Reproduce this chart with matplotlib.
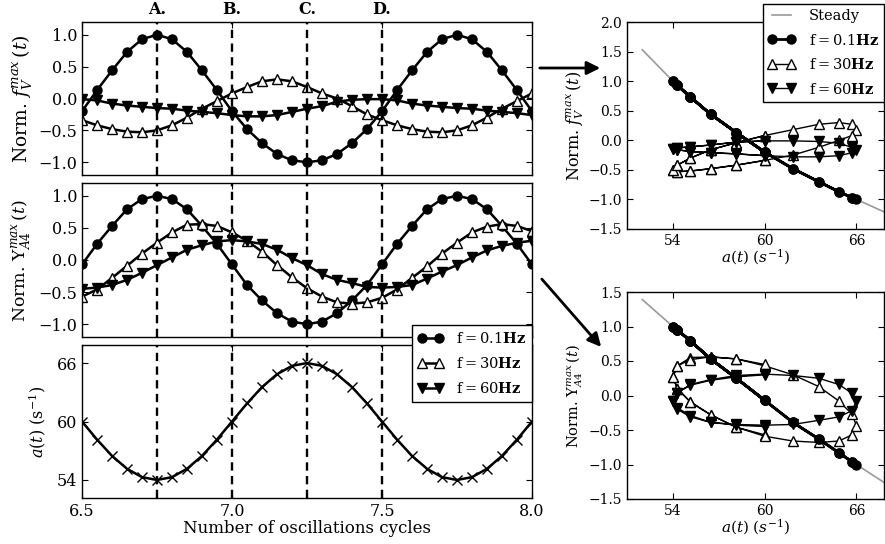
import matplotlib
matplotlib.use('Agg')
import matplotlib.pyplot as plt
from matplotlib.lines import Line2D
from matplotlib.patches import FancyArrowPatch
from matplotlib.transforms import blended_transform_factory

# ---------------- data ----------------
t = [6.50, 6.55, 6.60, 6.65, 6.70, 6.75, 6.80, 6.85, 6.90, 6.95,
     7.00, 7.05, 7.10, 7.15, 7.20, 7.25, 7.30, 7.35, 7.40, 7.45,
     7.50, 7.55, 7.60, 7.65, 7.70, 7.75, 7.80, 7.85, 7.90, 7.95, 8.00]

a_t = [60.0, 58.15, 56.47, 55.15, 54.29, 54.0, 54.29, 55.15, 56.47, 58.15,
       60.0, 61.85, 63.53, 64.85, 65.71, 66.0, 65.71, 64.85, 63.53, 61.85,
       60.0, 58.15, 56.47, 55.15, 54.29, 54.0, 54.29, 55.15, 56.47, 58.15, 60.0]

fv_01 = [-0.20, 0.13, 0.44, 0.73, 0.93, 1.00, 0.93, 0.73, 0.44, 0.13,
         -0.20, -0.48, -0.70, -0.87, -0.97, -1.00, -0.97, -0.87, -0.70, -0.48,
         -0.20, 0.13, 0.44, 0.73, 0.93, 1.00, 0.93, 0.73, 0.44, 0.13, -0.20]
fv_30 = [-0.34, -0.42, -0.48, -0.52, -0.53, -0.50, -0.42, -0.30, -0.16, -0.04,
         0.08, 0.18, 0.27, 0.30, 0.27, 0.18, 0.08, 0.00, -0.12, -0.25,
         -0.34, -0.42, -0.48, -0.52, -0.53, -0.50, -0.42, -0.30, -0.16, -0.04, 0.08]
fv_60 = [-0.01, -0.03, -0.08, -0.11, -0.13, -0.15, -0.16, -0.19, -0.21, -0.23,
         -0.26, -0.28, -0.28, -0.26, -0.21, -0.16, -0.12, -0.05, -0.02, -0.01,
         -0.01, -0.03, -0.08, -0.11, -0.13, -0.15, -0.16, -0.19, -0.21, -0.23, -0.26]

y_01 = [-0.07, 0.25, 0.53, 0.79, 0.95, 1.00, 0.95, 0.79, 0.53, 0.25,
        -0.07, -0.39, -0.63, -0.83, -0.96, -1.00, -0.96, -0.83, -0.63, -0.39,
        -0.07, 0.25, 0.53, 0.79, 0.95, 1.00, 0.95, 0.79, 0.53, 0.25, -0.07]
y_30 = [-0.57, -0.46, -0.28, -0.09, 0.10, 0.27, 0.43, 0.55, 0.56, 0.53,
        0.43, 0.30, 0.13, -0.08, -0.27, -0.44, -0.57, -0.66, -0.68, -0.66,
        -0.59, -0.46, -0.28, -0.10, 0.10, 0.27, 0.43, 0.52, 0.56, 0.53, 0.45]
y_60 = [-0.45, -0.43, -0.39, -0.31, -0.20, -0.08, 0.04, 0.16, 0.23, 0.29,
        0.31, 0.29, 0.25, 0.16, 0.03, -0.08, -0.22, -0.31, -0.36, -0.42,
        -0.43, -0.42, -0.39, -0.29, -0.18, -0.08, 0.04, 0.15, 0.22, 0.27, 0.30]

steady_a = [52.0, 54.0, 56.47, 58.15, 60.0, 61.85, 63.53, 66.0, 67.8]
steady_fv = [1.53, 1.00, 0.44, 0.13, -0.20, -0.48, -0.70, -1.00, -1.21]
steady_y = [1.39, 1.00, 0.53, 0.25, -0.07, -0.39, -0.63, -1.00, -1.26]

phase_x = [6.75, 7.0, 7.25, 7.5]
phase_labels = ['A.', 'B.', 'C.', 'D.']
leg_labels = [r'f$=$0.1$\mathbf{Hz}$', r'f$=$30$\mathbf{Hz}$', r'f$=$60$\mathbf{Hz}$']

# ---------------- style ----------------
plt.rcParams.update({
    'font.family': ['DejaVu Serif', 'DejaVu Sans'],
    'mathtext.fontset': 'dejavuserif',
    'xtick.direction': 'in', 'ytick.direction': 'in',
    'xtick.top': True, 'ytick.right': True,
    'xtick.major.size': 4, 'ytick.major.size': 4,
    'axes.linewidth': 1.0,
})

W, H = 885, 544
fig = plt.figure(figsize=(W / 100, H / 100), dpi=100)


def ax_px(x0, y0, x1, y1):
    return fig.add_axes([x0 / W, 1 - y1 / H, (x1 - x0) / W, (y1 - y0) / H])


sty01 = dict(color='k', marker='o', ms=6.5, lw=1.8, mfc='k', mec='k')
sty30 = dict(color='k', marker='^', ms=7, lw=1.8, mfc='white', mec='k', mew=1)
sty60 = dict(color='k', marker='v', ms=7, lw=1.8, mfc='k', mec='k')

ax1 = ax_px(82, 22, 532, 175)
ax2 = ax_px(82, 183, 532, 337)
ax3 = ax_px(82, 345, 532, 498)

ax1.plot(t, fv_01, **sty01)
ax1.plot(t, fv_30, **sty30)
ax1.plot(t, fv_60, **sty60)
ax2.plot(t, y_01, **sty01)
ax2.plot(t, y_30, **sty30)
ax2.plot(t, y_60, **sty60)
ax3.plot(t, a_t, color='k', lw=1.8, marker='x', ms=7, mew=1)

for ax in (ax1, ax2):
    ax.set_ylim(-1.2, 1.2)
    ax.set_yticks([-1.0, -0.5, 0.0, 0.5, 1.0])
ax3.set_ylim(52.15, 67.85)
ax3.set_yticks([54, 60, 66])
for ax in (ax1, ax2, ax3):
    ax.set_xlim(6.5, 8.0)
    ax.set_xticks([6.5, 7.0, 7.5, 8.0])
    ax.tick_params(labelsize=11.5)
    for xv in phase_x:
        ax.axvline(xv, color='k', ls='--', lw=1.7, dashes=(3.5, 2.3), zorder=5)
for ax in (ax1, ax2):
    ax.tick_params(labelbottom=False)

ax1.set_ylabel(r'Norm. $f_V^{max}\,(t)$', fontsize=13.5, labelpad=3)
ax2.set_ylabel(r'Norm. Y$_{A4}^{max}\,(t)$', fontsize=12.5, labelpad=4)
ax3.set_ylabel(r'$a(t)$ (s$^{-1}$)', fontsize=11.5, labelpad=6)
ax3.set_xlabel('Number of oscillations cycles', fontsize=12, labelpad=0)

trans = blended_transform_factory(ax1.transData, ax1.transAxes)
for xv, lab in zip(phase_x, phase_labels):
    ax1.text(xv, 1.025, lab, transform=trans, ha='center', va='bottom',
             fontsize=11.5, fontweight='bold')

# right panels
rsty01 = dict(color='k', marker='o', ms=6.5, lw=2.0, mfc='k', mec='k')
rsty30 = dict(color='k', marker='^', ms=7, lw=1.0, mfc='white', mec='k', mew=1)
rsty60 = dict(color='k', marker='v', ms=7, lw=1.0, mfc='k', mec='k')

ax4 = ax_px(627, 22, 884, 229)
ax5 = ax_px(627, 292, 884, 499)

ax4.plot(steady_a, steady_fv, color='0.6', lw=1.2)
ax4.plot(a_t, fv_30, **rsty30)
ax4.plot(a_t, fv_60, **rsty60)
ax4.plot(a_t, fv_01, **rsty01)
ax5.plot(steady_a, steady_y, color='0.6', lw=1.2)
ax5.plot(a_t, y_30, **rsty30)
ax5.plot(a_t, y_60, **rsty60)
ax5.plot(a_t, y_01, **rsty01)

ax4.set_ylim(-1.5, 2.0)
ax4.set_yticks([-1.5, -1.0, -0.5, 0.0, 0.5, 1.0, 1.5, 2.0])
ax5.set_ylim(-1.5, 1.5)
ax5.set_yticks([-1.5, -1.0, -0.5, 0.0, 0.5, 1.0, 1.5])
for ax in (ax4, ax5):
    ax.set_xlim(51, 67.8)
    ax.set_xticks([54, 60, 66])
    ax.tick_params(labelsize=10)
    ax.set_xlabel(r'$a(t)$ $(s^{-1})$', fontsize=11, labelpad=0)
ax4.set_ylabel(r'Norm. $f_V^{max}\,(t)$', fontsize=11.5, labelpad=2)
ax5.set_ylabel(r'Norm. Y$_{A4}^{max}\,(t)$', fontsize=10.5, labelpad=3)

# legends
h01 = Line2D([], [], **sty01)
h30 = Line2D([], [], **sty30)
h60 = Line2D([], [], **sty60)
leg1 = fig.legend([h01, h30, h60], leg_labels, loc='upper right',
                  bbox_to_anchor=(532 / W, 1 - 325 / H), bbox_transform=fig.transFigure,
                  numpoints=2, fancybox=False, edgecolor='k', framealpha=1,
                  fontsize=10.5, borderaxespad=0, handlelength=1.7,
                  labelspacing=0.7, handletextpad=0.9, borderpad=0.4)
leg1.get_frame().set_linewidth(1.0)

hs = Line2D([], [], color='0.6', lw=1.2)
r01 = Line2D([], [], **rsty01)
r30 = Line2D([], [], **rsty30)
r60 = Line2D([], [], **rsty60)
leg2 = fig.legend([hs, r01, r30, r60], ['Steady'] + leg_labels, loc='upper right',
                  bbox_to_anchor=(884 / W, 1 - 4 / H), bbox_transform=fig.transFigure,
                  numpoints=2, fancybox=False, edgecolor='k', framealpha=1,
                  fontsize=10.5, borderaxespad=0, handlelength=1.9,
                  labelspacing=0.65, handletextpad=0.9, borderpad=0.35)
leg2.get_frame().set_linewidth(1.0)

# arrows
arr1 = FancyArrowPatch((537 / W, 1 - 68 / H), (603 / W, 1 - 68 / H),
                       transform=fig.transFigure, arrowstyle='-|>',
                       mutation_scale=20, lw=2, color='k')
arr2 = FancyArrowPatch((540 / W, 1 - 277 / H), (603 / W, 1 - 349 / H),
                       transform=fig.transFigure, arrowstyle='-|>',
                       mutation_scale=20, lw=2, color='k')
fig.add_artist(arr1)
fig.add_artist(arr2)

fig.savefig('out.png', dpi=100)
